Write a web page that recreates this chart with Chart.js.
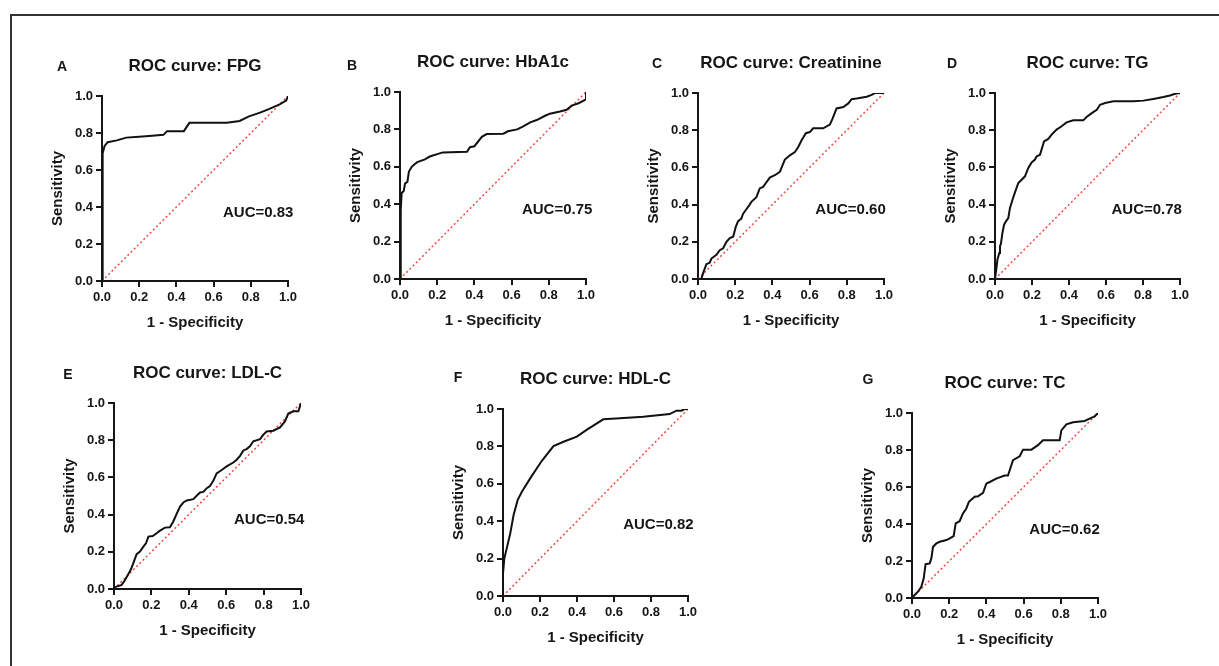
<!DOCTYPE html>
<html>
<head>
<meta charset="utf-8">
<script src="https://cdn.jsdelivr.net/npm/chart.js@4.4.1/dist/chart.umd.min.js"></script>
<style>
  body { margin: 0; background: #fff; width: 1219px; height: 666px; overflow: hidden; position: relative; }
  .frame { position: absolute; left: 10px; top: 14px; width: 1300px; height: 700px;
           border-top: 2px solid #333; border-left: 2px solid #333; }
  canvas { position: absolute; }
</style>
</head>
<body>
<div class="frame"></div>
<script>
// values (1 - specificity, sensitivity)
const fpgX = [0, 0.002, 0.005, 0.014, 0.03, 0.08, 0.13, 0.2, 0.27, 0.33, 0.35, 0.44, 0.47, 0.67, 0.74, 0.79, 0.85, 0.9, 0.955, 0.99, 1];
const fpgY = [0, 0.40, 0.69, 0.73, 0.75, 0.76, 0.775, 0.78, 0.785, 0.79, 0.81, 0.81, 0.855, 0.855, 0.865, 0.89, 0.91, 0.93, 0.955, 0.975, 1];

const hba1cX = [0, 0.004, 0.009, 0.02, 0.027, 0.04, 0.048, 0.063, 0.08, 0.093, 0.134, 0.16, 0.2, 0.23, 0.36, 0.376, 0.4, 0.44, 0.466, 0.556, 0.58, 0.63, 0.66, 0.7, 0.735, 0.78, 0.806, 0.86, 0.896, 0.923, 0.96, 0.99, 1, 1];
const hba1cY = [0, 0.37, 0.46, 0.47, 0.51, 0.52, 0.575, 0.6, 0.615, 0.625, 0.64, 0.655, 0.668, 0.677, 0.68, 0.705, 0.71, 0.76, 0.775, 0.777, 0.79, 0.8, 0.815, 0.838, 0.85, 0.873, 0.884, 0.896, 0.905, 0.927, 0.94, 0.955, 0.96, 1];

const creatX = [0, 0.018, 0.027, 0.045, 0.063, 0.072, 0.099, 0.117, 0.135, 0.153, 0.171, 0.189, 0.203, 0.215, 0.233, 0.242, 0.26, 0.278, 0.287, 0.314, 0.332, 0.35, 0.368, 0.386, 0.413, 0.44, 0.467, 0.494, 0.521, 0.539, 0.557, 0.58, 0.601, 0.619, 0.673, 0.709, 0.724, 0.745, 0.781, 0.808, 0.826, 0.853, 0.907, 0.934, 0.952, 1];
const creatY = [0, 0, 0.03, 0.08, 0.088, 0.11, 0.13, 0.155, 0.165, 0.2, 0.22, 0.227, 0.28, 0.31, 0.325, 0.35, 0.375, 0.4, 0.415, 0.44, 0.487, 0.495, 0.52, 0.545, 0.558, 0.576, 0.642, 0.665, 0.683, 0.71, 0.746, 0.784, 0.79, 0.81, 0.81, 0.83, 0.863, 0.917, 0.925, 0.944, 0.967, 0.97, 0.98, 0.99, 1, 1];

const tgX = [0, 0.009, 0.013, 0.023, 0.027, 0.032, 0.04, 0.049, 0.059, 0.072, 0.081, 0.095, 0.108, 0.126, 0.144, 0.162, 0.18, 0.198, 0.216, 0.225, 0.243, 0.265, 0.288, 0.306, 0.333, 0.36, 0.387, 0.423, 0.477, 0.495, 0.523, 0.55, 0.568, 0.595, 0.64, 0.748, 0.802, 0.856, 0.91, 0.946, 0.973, 1];
const tgY = [0, 0.068, 0.104, 0.14, 0.176, 0.19, 0.247, 0.292, 0.31, 0.328, 0.382, 0.427, 0.466, 0.516, 0.534, 0.552, 0.597, 0.627, 0.642, 0.659, 0.668, 0.74, 0.753, 0.776, 0.803, 0.821, 0.842, 0.853, 0.853, 0.871, 0.892, 0.91, 0.937, 0.946, 0.955, 0.955, 0.959, 0.968, 0.978, 0.987, 0.996, 1];

const ldlX = [0, 0.005, 0.014, 0.041, 0.059, 0.077, 0.089, 0.103, 0.121, 0.139, 0.157, 0.171, 0.184, 0.207, 0.228, 0.246, 0.273, 0.299, 0.317, 0.335, 0.353, 0.371, 0.389, 0.424, 0.442, 0.46, 0.478, 0.496, 0.513, 0.531, 0.549, 0.576, 0.602, 0.638, 0.656, 0.674, 0.692, 0.709, 0.727, 0.745, 0.781, 0.799, 0.816, 0.852, 0.888, 0.914, 0.932, 0.959, 0.986, 1];
const ldlY = [0, 0.01, 0.013, 0.022, 0.048, 0.081, 0.102, 0.138, 0.187, 0.201, 0.228, 0.246, 0.282, 0.285, 0.3, 0.314, 0.33, 0.332, 0.363, 0.404, 0.443, 0.465, 0.476, 0.483, 0.501, 0.519, 0.522, 0.542, 0.553, 0.582, 0.622, 0.64, 0.659, 0.68, 0.695, 0.716, 0.745, 0.752, 0.767, 0.794, 0.806, 0.83, 0.847, 0.851, 0.869, 0.901, 0.943, 0.955, 0.955, 1];

const hdlX = [0, 0, 0.007, 0.0215, 0.039, 0.057, 0.079, 0.102, 0.147, 0.21, 0.273, 0.327, 0.399, 0.452, 0.542, 0.632, 0.758, 0.901, 0.937, 0.964, 0.982, 1];
const hdlY = [0, 0.12, 0.2, 0.26, 0.334, 0.432, 0.5125, 0.557, 0.629, 0.723, 0.802, 0.825, 0.852, 0.888, 0.945, 0.95, 0.959, 0.973, 0.991, 0.991, 1, 1];

const tcX = [0, 0.014, 0.032, 0.05, 0.063, 0.073, 0.095, 0.104, 0.113, 0.131, 0.149, 0.185, 0.203, 0.224, 0.235, 0.256, 0.274, 0.292, 0.306, 0.337, 0.355, 0.382, 0.4, 0.418, 0.453, 0.498, 0.516, 0.543, 0.579, 0.597, 0.642, 0.677, 0.704, 0.794, 0.803, 0.83, 0.866, 0.928, 0.955, 0.982, 1];
const tcY = [0, 0.016, 0.034, 0.061, 0.106, 0.183, 0.187, 0.214, 0.277, 0.295, 0.304, 0.313, 0.322, 0.335, 0.403, 0.415, 0.457, 0.484, 0.52, 0.547, 0.55, 0.568, 0.619, 0.627, 0.645, 0.662, 0.662, 0.745, 0.766, 0.802, 0.802, 0.826, 0.853, 0.853, 0.906, 0.939, 0.95, 0.957, 0.97, 0.982, 1];

const diagX = [0, 1];
const diagY = [0, 1];

const tickValues = [0, 0.2, 0.4, 0.6, 0.8, 1.0];
const letters = ['A', 'B', 'C', 'D', 'E', 'F', 'G'];
const markers = ['FPG', 'HbA1c', 'Creatinine', 'TG', 'LDL-C', 'HDL-C', 'TC'];
const aucValues = ['0.83', '0.75', '0.60', '0.78', '0.54', '0.82', '0.62'];
const curvesX = [fpgX, hba1cX, creatX, tgX, ldlX, hdlX, tcX];
const curvesY = [fpgY, hba1cY, creatY, tgY, ldlY, hdlY, tcY];

// plot area of each panel on the page: left, top, width, height
const plotBoxes = [
    [102, 96, 186, 185],
    [400, 92, 186, 187],
    [698, 93, 186, 186],
    [995, 93, 185, 186],
    [114, 403, 187, 186],
    [503, 409, 185, 187],
    [912, 413, 186, 185]
];
// where the panel letter sits, relative to the plot's top-left corner
const letterOffsets = [[-40, -29], [-48, -26], [-41, -29], [-43, -29], [-46, -28], [-45, -31], [-44, -33]];
// AUC label centre, in data units
const aucPos = [[0.84, 0.37], [0.845, 0.37], [0.82, 0.37], [0.82, 0.37], [0.83, 0.37], [0.84, 0.38], [0.82, 0.37]];

const FONT = "'Liberation Sans', Arial, sans-serif";
const INK = '#161616';
const AXIS_W = 72, TITLE_H = 50, XAXIS_H = 62, RIGHT_PAD = 16;

const panelText = {
    id: 'panelText',
    afterDraw(chart, args, opts) {
        const {ctx, chartArea, scales} = chart;
        ctx.save();
        ctx.fillStyle = INK;
        ctx.textAlign = 'center';
        ctx.textBaseline = 'middle';
        ctx.font = 'bold 14px ' + FONT;
        ctx.fillText(opts.letter, chartArea.left + opts.dx, chartArea.top + opts.dy);
        ctx.font = 'bold 15px ' + FONT;
        ctx.fillText('AUC=' + opts.auc, scales.x.getPixelForValue(opts.aucX), scales.y.getPixelForValue(opts.aucY));
        ctx.restore();
    }
};

function axisOptions(title, isX) {
    return {
        type: 'linear',
        min: 0,
        max: 1,
        afterBuildTicks: scale => { scale.ticks = tickValues.map(v => ({value: v})); },
        afterFit: scale => {
            if (isX) scale.height = XAXIS_H; else scale.width = AXIS_W;
        },
        ticks: {
            color: INK,
            padding: 3,
            font: {family: FONT, size: 13, weight: 'bold'},
            callback: v => Number(v).toFixed(1)
        },
        grid: {drawOnChartArea: false, color: INK, lineWidth: 2, tickLength: 6},
        border: {color: INK, width: 2},
        title: {
            display: true,
            text: title,
            color: INK,
            font: {family: FONT, size: 15, weight: 'bold'},
            padding: isX ? {top: 0, bottom: 11.5} : {top: 19, bottom: 0}
        }
    };
}

plotBoxes.forEach((box, i) => {
    const [left, top, w, h] = box;
    const canvas = document.createElement('canvas');
    const cw = AXIS_W + w + RIGHT_PAD;
    const ch = TITLE_H + h + XAXIS_H;
    canvas.width = cw;
    canvas.height = ch;
    canvas.style.left = (left - AXIS_W) + 'px';
    canvas.style.top = (top - TITLE_H) + 'px';
    canvas.style.width = cw + 'px';
    canvas.style.height = ch + 'px';
    document.body.appendChild(canvas);

    new Chart(canvas, {
        type: 'scatter',
        data: {
            datasets: [
                {
                    data: curvesX[i].map((x, k) => ({x: x, y: curvesY[i][k]})),
                    showLine: true,
                    borderColor: '#111',
                    borderWidth: 2,
                    pointRadius: 0,
                    tension: 0
                },
                {
                    data: diagX.map((x, k) => ({x: x, y: diagY[k]})),
                    showLine: true,
                    borderColor: '#ee4b43',
                    borderWidth: 1.5,
                    borderDash: [2, 2.5],
                    pointRadius: 0
                }
            ]
        },
        options: {
            responsive: false,
            animation: false,
            devicePixelRatio: 1,
            layout: {padding: {left: 0, top: 0, right: RIGHT_PAD, bottom: 0}},
            scales: {
                x: axisOptions('1 - Specificity', true),
                y: axisOptions('Sensitivity', false)
            },
            plugins: {
                legend: {display: false},
                tooltip: {enabled: false},
                title: {
                    display: true,
                    text: 'ROC curve: ' + markers[i],
                    color: INK,
                    fullSize: false,
                    font: {family: FONT, size: 17, weight: 'bold'},
                    padding: {top: 10, bottom: 19.6}
                },
                panelText: {
                    letter: letters[i],
                    dx: letterOffsets[i][0],
                    dy: letterOffsets[i][1],
                    auc: aucValues[i],
                    aucX: aucPos[i][0],
                    aucY: aucPos[i][1]
                }
            }
        },
        plugins: [panelText]
    });
});
</script>
</body>
</html>
